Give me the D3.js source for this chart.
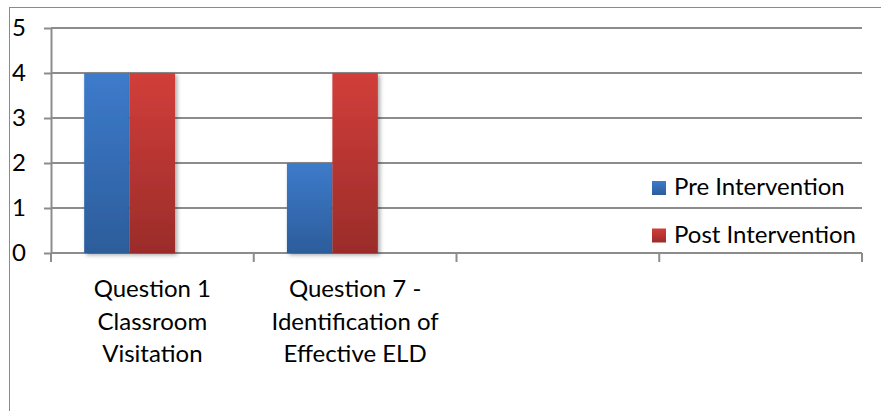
<!DOCTYPE html>
<html>
<head>
<meta charset="utf-8">
<script src="https://cdn.jsdelivr.net/npm/d3@7"></script>
<style>
  body { margin: 0; background: #fff; }
  svg { display: block; }
  text { font-family: Lato, "Open Sans", sans-serif; fill: #000; }
</style>
</head>
<body>
<div id="canvas"></div>
<script>
// chart data
var categoryLines = [
  ["Question 1", "Classroom", "Visitation"],
  ["Question 7 -", "Identification of", "Effective ELD"],
  [],
  []
];
var preIntervention = [4, 2, null, null];
var postIntervention = [4, 4, null, null];
var seriesNames = ["Pre Intervention", "Post Intervention"];
var yTicks = [0, 1, 2, 3, 4, 5];

var winWidth = 881, winHeight = 411;
var margin = { top: 28, right: 19, bottom: 158, left: 51 },
  width = winWidth - margin.left - margin.right,
  height = winHeight - margin.top - margin.bottom;

var svg = d3.select("#canvas").append("svg")
  .attr("width", winWidth)
  .attr("height", winHeight);

var defs = svg.append("defs");

// bar gradients, lighter at top
function grad(id, top, bottom) {
  var g = defs.append("linearGradient")
    .attr("id", id)
    .attr("x1", 0).attr("y1", 0).attr("x2", 0).attr("y2", 1);
  g.append("stop").attr("offset", "0%").attr("stop-color", top);
  g.append("stop").attr("offset", "100%").attr("stop-color", bottom);
}
grad("gPre", "#3d7bcb", "#2c5d9b");
grad("gPost", "#d23e3a", "#9a2c2a");
var fills = ["url(#gPre)", "url(#gPost)"];

var shadow = defs.append("filter").attr("id", "shadow")
  .attr("x", "-20%").attr("y", "-20%").attr("width", "150%").attr("height", "150%");
shadow.append("feDropShadow")
  .attr("dx", 2).attr("dy", 2).attr("stdDeviation", 2)
  .attr("flood-color", "#000").attr("flood-opacity", 0.35);

// outer frame
svg.append("rect")
  .attr("x", 9.5).attr("y", 7.5)
  .attr("width", winWidth).attr("height", winHeight)
  .attr("fill", "none")
  .attr("stroke", "#8a8a8a")
  .attr("stroke-width", 1);

var g = svg.append("g")
  .attr("transform", "translate(" + margin.left + "," + margin.top + ")");

var x0 = d3.scaleBand()
  .domain(d3.range(categoryLines.length))
  .range([0, width]);

// Excel keeps a slot for a third (empty) series in each group
var x1 = d3.scaleBand()
  .domain([0, 1, 2])
  .range([0, x0.bandwidth()])
  .paddingOuter(0.73);

var y = d3.scaleLinear()
  .domain([0, 5])
  .range([height, 0]);

// gridlines
g.append("g").selectAll("line")
  .data(yTicks)
  .enter().append("line")
  .attr("x1", 0).attr("x2", width)
  .attr("y1", function(d) { return y(d); })
  .attr("y2", function(d) { return y(d); })
  .attr("stroke", "#8c8c8c")
  .attr("stroke-width", 2);

// y axis
var yAxis = d3.axisLeft(y)
  .tickValues(yTicks)
  .tickFormat(d3.format("d"))
  .tickSize(7)
  .tickSizeOuter(0)
  .tickPadding(18);
var gY = g.append("g").call(yAxis);
gY.select(".domain").attr("stroke", "#8c8c8c").attr("stroke-width", 2);
gY.selectAll(".tick line").attr("stroke", "#8c8c8c").attr("stroke-width", 2);
gY.selectAll(".tick text")
  .style("font-size", "24px")
  .attr("fill", "#000");

// x axis ticks at category boundaries
var bounds = d3.range(categoryLines.length + 1).map(function(i) { return i * x0.step(); });
g.append("g").selectAll("line")
  .data(bounds)
  .enter().append("line")
  .attr("x1", function(d) { return d; })
  .attr("x2", function(d) { return d; })
  .attr("y1", height).attr("y2", height + 9)
  .attr("stroke", "#8c8c8c")
  .attr("stroke-width", 2);

// bars
var series = [preIntervention, postIntervention];
var groups = g.append("g").selectAll("g")
  .data(categoryLines)
  .enter().append("g")
  .attr("transform", function(d, i) { return "translate(" + x0(i) + ",0)"; });

groups.selectAll("rect")
  .data(function(d, i) {
    return series.map(function(s, k) { return { k: k, v: s[i] }; })
      .filter(function(e) { return e.v != null; });
  })
  .enter().append("rect")
  .attr("x", function(d) { return x1(d.k); })
  .attr("y", function(d) { return y(d.v); })
  .attr("width", x1.bandwidth())
  .attr("height", function(d) { return height - y(d.v); })
  .attr("fill", function(d) { return fills[d.k]; })
  .attr("filter", "url(#shadow)");

// category labels
groups.each(function(lines) {
  var t = d3.select(this).append("text")
    .attr("text-anchor", "middle")
    .style("font-size", "24px");
  lines.forEach(function(l, j) {
    t.append("tspan")
      .attr("x", x0.bandwidth() / 2)
      .attr("y", height + 44 + j * 32.5)
      .text(l);
  });
});

// legend
var legend = svg.append("g")
  .attr("transform", "translate(652,181)");
var items = legend.selectAll("g")
  .data(seriesNames)
  .enter().append("g")
  .attr("transform", function(d, i) { return "translate(0," + (i * 47.5) + ")"; });
items.append("rect")
  .attr("width", 14).attr("height", 14)
  .attr("fill", function(d, i) { return fills[i]; });
items.append("text")
  .attr("x", 22).attr("y", 14)
  .style("font-size", "24px")
  .text(function(d) { return d; });
</script>
</body>
</html>
